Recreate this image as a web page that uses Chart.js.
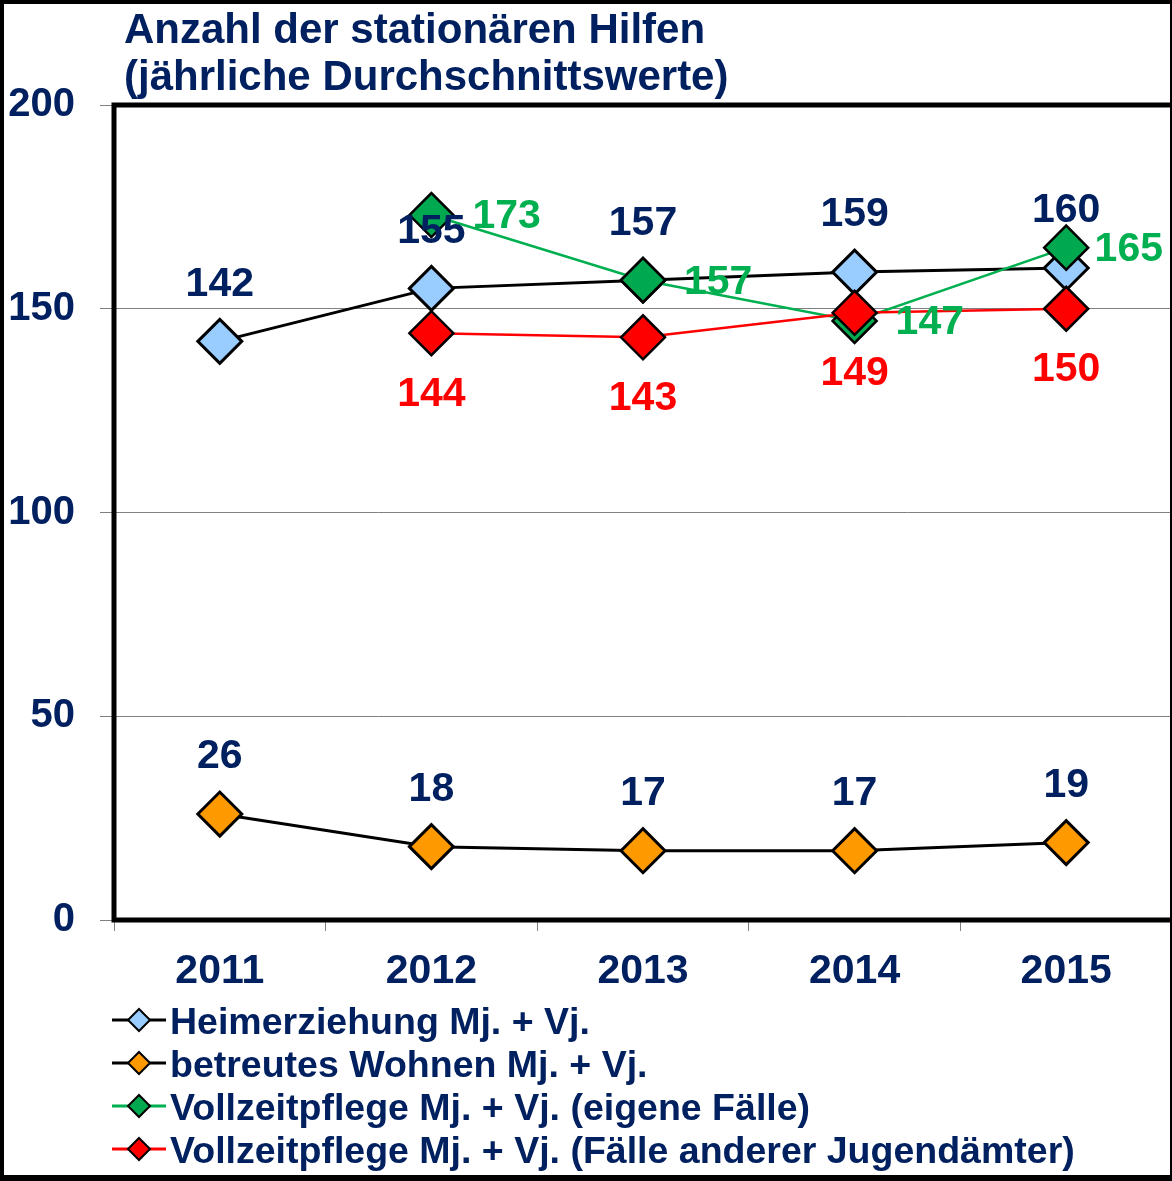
<!DOCTYPE html>
<html>
<head>
<meta charset="utf-8">
<script src="https://cdn.jsdelivr.net/npm/chart.js@4.4.1/dist/chart.umd.min.js"></script>
<style>
  body { margin: 0; background: #fff; }
  #wrap { position: relative; width: 1172px; height: 1181px; overflow: hidden; background: #fff; }
  #graph { position: absolute; left: 0; top: 0; }
  #frame { position: absolute; left: 0; top: 0; width: 1172px; height: 1181px; box-sizing: border-box;
           border-left: 4px solid #000; border-top: 4px solid #000; border-bottom: 6px solid #000; border-right: 2px solid #000;
           pointer-events: none; }
  #title { position: absolute; left: 124px; top: 5px; color: #002060;
           font: bold 42px "Liberation Sans", Arial, sans-serif; line-height: 47px; white-space: nowrap; }
  #legend { position: absolute; left: 112px; top: 1000px; color: #002060;
            font: bold 37.5px "Liberation Sans", Arial, sans-serif; line-height: 43px; }
  #legend .row { display: flex; align-items: center; height: 43px; white-space: nowrap; }
  #legend svg { display: block; margin-right: 4px; }
</style>
</head>
<body>
<div id="wrap">
  <canvas id="graph" width="1172" height="1181"></canvas>
  <div id="title">Anzahl der stationären Hilfen<br>(jährliche Durchschnittswerte)</div>
  <div id="legend"></div>
  <div id="frame"></div>
</div>
<script>
const years = ['2011', '2012', '2013', '2014', '2015'];
const heimerziehung = [142, 155, 157, 159, 160];
const betreutesWohnen = [26, 18, 17, 17, 19];
const vollzeitEigene = [null, 173, 157, 147, 165];
const vollzeitAndere = [null, 144, 143, 149, 150];
const yTicks = [0, 50, 100, 150, 200];

const navy = '#002060';
const fontFamily = '"Liberation Sans", Arial, sans-serif';

// draws the thick frame round the plot area (no right side, it runs off the picture)
const plotFrame = {
  id: 'plotFrame',
  afterDraw(chart) {
    const { ctx, chartArea } = chart;
    ctx.save();
    ctx.strokeStyle = '#000';
    ctx.lineWidth = 5;
    ctx.beginPath();
    ctx.moveTo(chartArea.right + 5, chartArea.top);
    ctx.lineTo(chartArea.left, chartArea.top);
    ctx.lineTo(chartArea.left, chartArea.bottom);
    ctx.lineTo(chartArea.right + 5, chartArea.bottom);
    ctx.stroke();
    ctx.restore();
  }
};

// value labels next to the points
const valueLabels = {
  id: 'valueLabels',
  afterDatasetsDraw(chart) {
    const ctx = chart.ctx;
    ctx.save();
    ctx.font = 'bold 41px ' + fontFamily;
    ctx.textBaseline = 'middle';
    chart.data.datasets.forEach((ds, i) => {
      const meta = chart.getDatasetMeta(i);
      meta.data.forEach((pt, j) => {
        const v = ds.data[j];
        if (v === null) return;
        const txt = String(v);
        ctx.fillStyle = ds.labelColor;
        if (ds.labelPos === 'right') {
          ctx.textAlign = 'left';
          const w = ctx.measureText(txt).width;
          const x = Math.min(pt.x + 41, chart.chartArea.right - w - 9);
          ctx.fillText(txt, x, pt.y + 2);
        } else if (ds.labelPos === 'below') {
          ctx.textAlign = 'center';
          ctx.fillText(txt, pt.x, pt.y + 61);
        } else {
          ctx.textAlign = 'center';
          ctx.fillText(txt, pt.x, pt.y - 57);
        }
      });
    });
    ctx.restore();
  }
};

const ctx = document.getElementById('graph');
const chart = new Chart(ctx, {
  type: 'line',
  data: {
    labels: years,
    datasets: [{
      label: 'Heimerziehung Mj. + Vj.',
      data: heimerziehung,
      borderColor: '#000000',
      borderWidth: 3,
      pointBackgroundColor: '#99CCFF',
      pointBorderColor: '#000000',
      labelColor: navy,
      labelPos: 'above',
      order: 4
    }, {
      label: 'betreutes Wohnen Mj. + Vj.',
      data: betreutesWohnen,
      borderColor: '#000000',
      borderWidth: 3,
      pointBackgroundColor: '#FF9900',
      pointBorderColor: '#000000',
      labelColor: navy,
      labelPos: 'above',
      order: 3
    }, {
      label: 'Vollzeitpflege Mj. + Vj. (eigene Fälle)',
      data: vollzeitEigene,
      borderColor: '#00B050',
      borderWidth: 2.5,
      pointBackgroundColor: '#00A84F',
      pointBorderColor: '#000000',
      labelColor: '#00B050',
      labelPos: 'right',
      order: 2
    }, {
      label: 'Vollzeitpflege Mj. + Vj. (Fälle anderer Jugendämter)',
      data: vollzeitAndere,
      borderColor: '#FF0000',
      borderWidth: 2.5,
      pointBackgroundColor: '#FF0000',
      pointBorderColor: '#000000',
      labelColor: '#FF0000',
      labelPos: 'below',
      order: 1
    }]
  },
  options: {
    responsive: false,
    animation: false,
    devicePixelRatio: 1,
    layout: { autoPadding: false, padding: { left: 0, top: 105, right: 0, bottom: 161 } },
    elements: {
      line: { tension: 0 },
      point: { pointStyle: 'rectRot', radius: 22, hoverRadius: 22, borderWidth: 2 }
    },
    plugins: {
      legend: { display: false },
      tooltip: { enabled: false }
    },
    scales: {
      x: {
        offset: true,
        grid: { offset: true, drawOnChartArea: false, tickLength: 11, color: '#808080', lineWidth: 1 },
        border: { display: false },
        ticks: { color: navy, font: { family: fontFamily, size: 41, weight: 'bold' }, padding: 16 },
        afterFit(scale) {
          scale.height = 100;
          scale.paddingLeft = 0;
          scale.paddingRight = 0;
        }
      },
      y: {
        min: yTicks[0],
        max: yTicks[yTicks.length - 1],
        afterBuildTicks(scale) { scale.ticks = yTicks.map(v => ({ value: v })); },
        grid: { color: '#808080', lineWidth: 1, tickLength: 14 },
        border: { display: false },
        ticks: { color: navy, font: { family: fontFamily, size: 40, weight: 'bold' }, padding: 25 },
        afterFit(scale) { scale.width = 114; }
      }
    }
  },
  plugins: [plotFrame, valueLabels]
});

// html legend with line + diamond icons
const legendBox = document.getElementById('legend');
chart.data.datasets.forEach(ds => {
  const row = document.createElement('div');
  row.className = 'row';
  row.innerHTML =
    '<svg width="54" height="43" viewBox="0 0 54 43">' +
    '<line x1="0" y1="20" x2="54" y2="20" stroke="' + ds.borderColor + '" stroke-width="3"/>' +
    '<polygon points="27,9 38,20 27,31 16,20" fill="' + ds.pointBackgroundColor + '" stroke="#000" stroke-width="2"/>' +
    '</svg>';
  const span = document.createElement('span');
  span.textContent = ds.label;
  row.appendChild(span);
  legendBox.appendChild(row);
});
</script>
</body>
</html>
